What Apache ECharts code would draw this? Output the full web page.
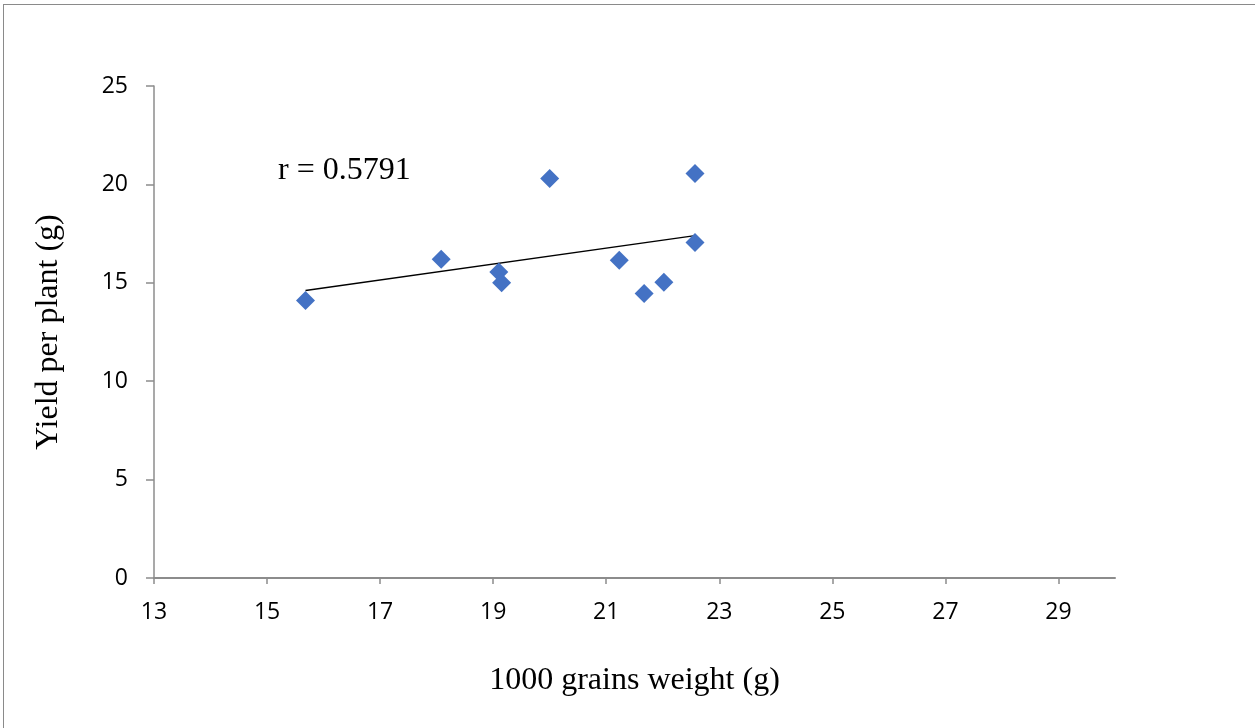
<!DOCTYPE html>
<html>
<head>
<meta charset="utf-8">
<script src="https://cdn.jsdelivr.net/npm/echarts@6/dist/echarts.min.js"></script>
<style>
html,body{margin:0;padding:0;background:#fff;}
#c{position:absolute;left:0;top:0;width:1255px;height:728px;}
#frame{position:absolute;left:3px;top:4px;width:1252px;height:724px;border-top:1px solid #8a8a8a;border-left:1px solid #8a8a8a;pointer-events:none;}
</style>
</head>
<body>
<div id="c"></div>
<div id="frame"></div>
<script>
// Data
var grainWeight = [15.68, 18.08, 19.1, 19.15, 20.0, 21.23, 21.67, 22.02, 22.57, 22.57];
var yieldPerPlant = [14.1, 16.2, 15.55, 15.0, 20.3, 16.15, 14.45, 15.03, 20.55, 17.05];
var xTicks = [13, 15, 17, 19, 21, 23, 25, 27, 29];
var yTicks = [0, 5, 10, 15, 20, 25];
var xTitle = '1000 grains weight (g)';
var yTitle = 'Yield per plant (g)';
var rLabel = 'r = 0.5791';

// Linear trendline (least squares) through the data
var n = grainWeight.length, mx = 0, my = 0;
for (var i = 0; i < n; i++) { mx += grainWeight[i]; my += yieldPerPlant[i]; }
mx /= n; my /= n;
var sxy = 0, sxx = 0;
for (var i = 0; i < n; i++) { sxy += (grainWeight[i]-mx)*(yieldPerPlant[i]-my); sxx += (grainWeight[i]-mx)*(grainWeight[i]-mx); }
var slope = sxy / sxx, icpt = my - slope * mx;
var xMin = Math.min.apply(null, grainWeight), xMax = Math.max.apply(null, grainWeight);
var trend = [[xMin, icpt + slope*xMin], [xMax, icpt + slope*xMax]];

var points = grainWeight.map(function(x, i){ return [x, yieldPerPlant[i]]; });

var axisCol = '#8c8c8c';
var labelFont = { fontFamily: '"Open Sans", sans-serif', fontSize: 23, color: '#000' };
var serif = '"Liberation Serif", "Times New Roman", serif';

var chart = echarts.init(document.getElementById('c'), null, {renderer: 'canvas'});
chart.setOption({
  animation: false,
  backgroundColor: '#fff',
  grid: { left: 154, right: 140, top: 86, bottom: 150, containLabel: false },
  xAxis: {
    type: 'value', min: 13, max: 30, interval: 1,
    name: xTitle, nameLocation: 'middle', nameGap: 87,
    nameTextStyle: { fontFamily: serif, fontSize: 32, color: '#000' },
    axisLine: { show: true, onZero: false, lineStyle: { color: axisCol, width: 2 } },
    axisTick: { show: true, customValues: xTicks, length: 6, lineStyle: { color: axisCol, width: 1.5 } },
    axisLabel: Object.assign({ customValues: xTicks, margin: 23 }, labelFont),
    splitLine: { show: false }
  },
  yAxis: {
    type: 'value', min: 0, max: 25, interval: 5,
    name: yTitle, nameLocation: 'middle', nameGap: 89, nameRotate: 90,
    nameTextStyle: { fontFamily: serif, fontSize: 32, color: '#000' },
    axisLine: { show: true, lineStyle: { color: axisCol, width: 1.5 } },
    axisTick: { show: true, customValues: yTicks, length: 8, lineStyle: { color: axisCol, width: 1.5 } },
    axisLabel: Object.assign({ customValues: yTicks, margin: 26 }, labelFont),
    splitLine: { show: false }
  },
  series: [
    {
      type: 'line', data: trend, symbol: 'none', silent: true,
      lineStyle: { color: '#000', width: 1.3 }, z: 1
    },
    {
      type: 'scatter', data: points, symbol: 'diamond', symbolSize: [19, 19],
      itemStyle: { color: '#4472C4', opacity: 1 }, z: 2
    }
  ],
  graphic: [
    { type: 'text', left: 278, top: 155,
      style: { text: rLabel, fontFamily: serif, fontSize: 32, fill: '#000' } }
  ]
});
</script>
</body>
</html>
